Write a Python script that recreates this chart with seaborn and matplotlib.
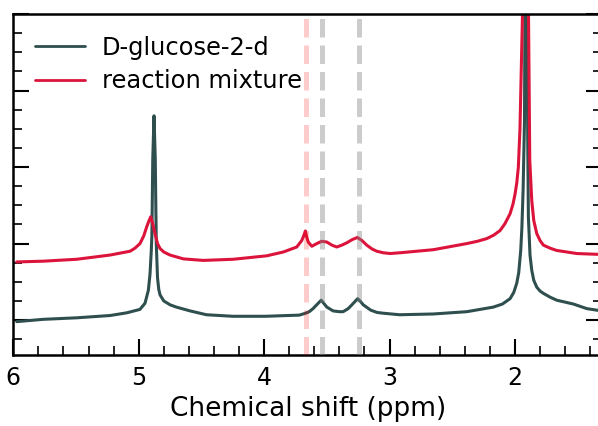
import numpy as np
import pandas as pd
import matplotlib
matplotlib.use("Agg")
import matplotlib.pyplot as plt
import seaborn as sns
from matplotlib.ticker import MultipleLocator, AutoMinorLocator

# ---- data (ppm, arbitrary intensity) ----
green_label = "D-glucose-2-d"
green_ppm = [5.973, 5.763, 5.494, 5.228, 5.096, 4.990, 4.950, 4.923, 4.910,
             4.900, 4.895, 4.888, 4.878, 4.868, 4.860, 4.850, 4.840, 4.830,
             4.800, 4.750, 4.700, 4.590, 4.460, 4.250, 3.990, 3.720, 3.670,
             3.640, 3.610, 3.575, 3.545, 3.520, 3.500, 3.450, 3.400, 3.370,
             3.330, 3.300, 3.255, 3.230, 3.210, 3.150, 3.100, 3.050, 2.920,
             2.651, 2.384, 2.172, 2.100, 2.039, 2.010, 1.986, 1.970, 1.954,
             1.945, 1.935, 1.924, 1.918, 1.912, 1.906, 1.898, 1.893, 1.880,
             1.866, 1.850, 1.826, 1.800, 1.774, 1.720, 1.667, 1.534, 1.427,
             1.348, 1.300]
green_int = [-0.02, 0.01, 0.03, 0.06, 0.095, 0.14, 0.22, 0.39, 0.60,
             0.90, 1.10, 2.10, 2.67, 2.10, 1.00, 0.55, 0.40, 0.33,
             0.25, 0.20, 0.17, 0.12, 0.07, 0.05, 0.05, 0.065, 0.09,
             0.11, 0.15, 0.21, 0.26, 0.21, 0.17, 0.12, 0.11, 0.11,
             0.15, 0.20, 0.28, 0.24, 0.20, 0.13, 0.10, 0.09, 0.07,
             0.08, 0.11, 0.17, 0.21, 0.28, 0.36, 0.48, 0.62, 0.91,
             1.20, 1.70, 2.60, 5.00, 8.00, 5.00, 2.30, 1.35, 0.85,
             0.65, 0.52, 0.43, 0.38, 0.35, 0.30, 0.26, 0.21, 0.15,
             0.13, 0.12]

red_label = "reaction mixture"
red_ppm = [5.973, 5.761, 5.494, 5.229, 5.069, 5.030, 4.990, 4.960, 4.936,
           4.920, 4.904, 4.890, 4.870, 4.850, 4.830, 4.800, 4.750, 4.644,
           4.485, 4.246, 3.980, 3.847, 3.740, 3.700, 3.685, 3.671, 3.660,
           3.648, 3.620, 3.580, 3.541, 3.500, 3.460, 3.421, 3.380, 3.341,
           3.300, 3.257, 3.220, 3.182, 3.140, 3.102, 3.050, 2.996, 2.916,
           2.651, 2.384, 2.300, 2.225, 2.170, 2.119, 2.080, 2.039, 2.015,
           1.999, 1.985, 1.973, 1.960, 1.940, 1.912, 1.892, 1.882, 1.866,
           1.850, 1.826, 1.800, 1.774, 1.720, 1.667, 1.507, 1.348, 1.300]
red_int = [0.76, 0.77, 0.795, 0.85, 0.90, 0.94, 1.00, 1.10, 1.22,
           1.29, 1.35, 1.27, 1.13, 1.00, 0.935, 0.89, 0.85, 0.80,
           0.78, 0.795, 0.84, 0.89, 0.955, 1.04, 1.10, 1.165, 1.08,
           1.02, 0.965, 1.00, 1.03, 1.02, 0.98, 0.955, 0.98, 1.01,
           1.05, 1.08, 1.04, 0.98, 0.93, 0.90, 0.88, 0.87, 0.88,
           0.92, 1.00, 1.03, 1.065, 1.11, 1.17, 1.26, 1.39, 1.52,
           1.65, 1.80, 2.00, 2.50, 4.00, 8.00, 4.00, 2.09, 1.56,
           1.30, 1.13, 1.04, 0.98, 0.94, 0.91, 0.87, 0.86, 0.86]

marker_ppm = [3.67, 3.54, 3.24]
marker_colors = ["red", "gray", "gray"]
marker_alphas = [0.2, 0.4, 0.4]

xticks = [6, 5, 4, 3, 2]
xlabel = "Chemical shift (ppm)"

# ---- build long-form table ----
df = pd.concat([
    pd.DataFrame({"ppm": green_ppm, "intensity": green_int, "sample": green_label}),
    pd.DataFrame({"ppm": red_ppm, "intensity": red_int, "sample": red_label}),
], ignore_index=True)

sns.set_theme(style="ticks")
plt.rcParams["font.family"] = ["DejaVu Sans"]
plt.rcParams["text.color"] = "black"
plt.rcParams["axes.labelcolor"] = "black"
plt.rcParams["xtick.color"] = "black"
plt.rcParams["ytick.color"] = "black"
plt.rcParams["axes.edgecolor"] = "black"

fig = plt.figure(figsize=(5.98, 4.26), dpi=100)
ax = fig.add_axes([13.3 / 598, 1 - 355 / 426, (602 - 13.3) / 598, (355 - 14) / 426])

palette = {green_label: "#2F4F4F", red_label: "#DC143C"}
sns.lineplot(data=df, x="ppm", y="intensity", hue="sample",
             hue_order=[green_label, red_label], palette=palette,
             estimator=None, sort=True, linewidth=2.2, ax=ax)

# green on top of red
for line in ax.get_lines():
    if line.get_label() == green_label:
        line.set_zorder(2.6)

for xp, c, a in zip(marker_ppm, marker_colors, marker_alphas):
    ax.axvline(xp, color=c, alpha=a, linestyle="--", linewidth=3.6, zorder=3)

ax.set_xlim(6, 1.306)
ax.set_ylim(-0.456, 4.0)

ax.xaxis.set_major_locator(MultipleLocator(1))
ax.xaxis.set_minor_locator(AutoMinorLocator(5))
ax.yaxis.set_major_locator(MultipleLocator(1))
ax.yaxis.set_minor_locator(AutoMinorLocator(4))
ax.set_xticks(xticks)
ax.set_xticklabels([str(t) for t in xticks])

ax.tick_params(axis="both", which="both", direction="in", colors="black",
               labelcolor="black")
ax.tick_params(axis="x", which="both", bottom=True, top=False)
ax.tick_params(axis="y", which="both", left=True, right=True, labelleft=False)
ax.tick_params(which="major", length=11.5, width=1.5, labelsize=17, pad=8)
ax.tick_params(which="minor", length=6.3, width=1.2)

for s in ax.spines.values():
    s.set_linewidth(1.8)
    s.set_color("black")

ax.set_xlabel(xlabel, fontsize=19, labelpad=4, color="black")
ax.set_ylabel("")

handles, labels = ax.get_legend_handles_labels()
leg = ax.legend(handles, labels, loc="upper left", frameon=False, fontsize=17.4,
                handlelength=2.05, handletextpad=0.72, labelspacing=0.4,
                borderaxespad=0.5, borderpad=0.4, labelcolor="black")
for h in leg.get_lines():
    h.set_linewidth(2.0)

fig.savefig("out.png", dpi=100)
